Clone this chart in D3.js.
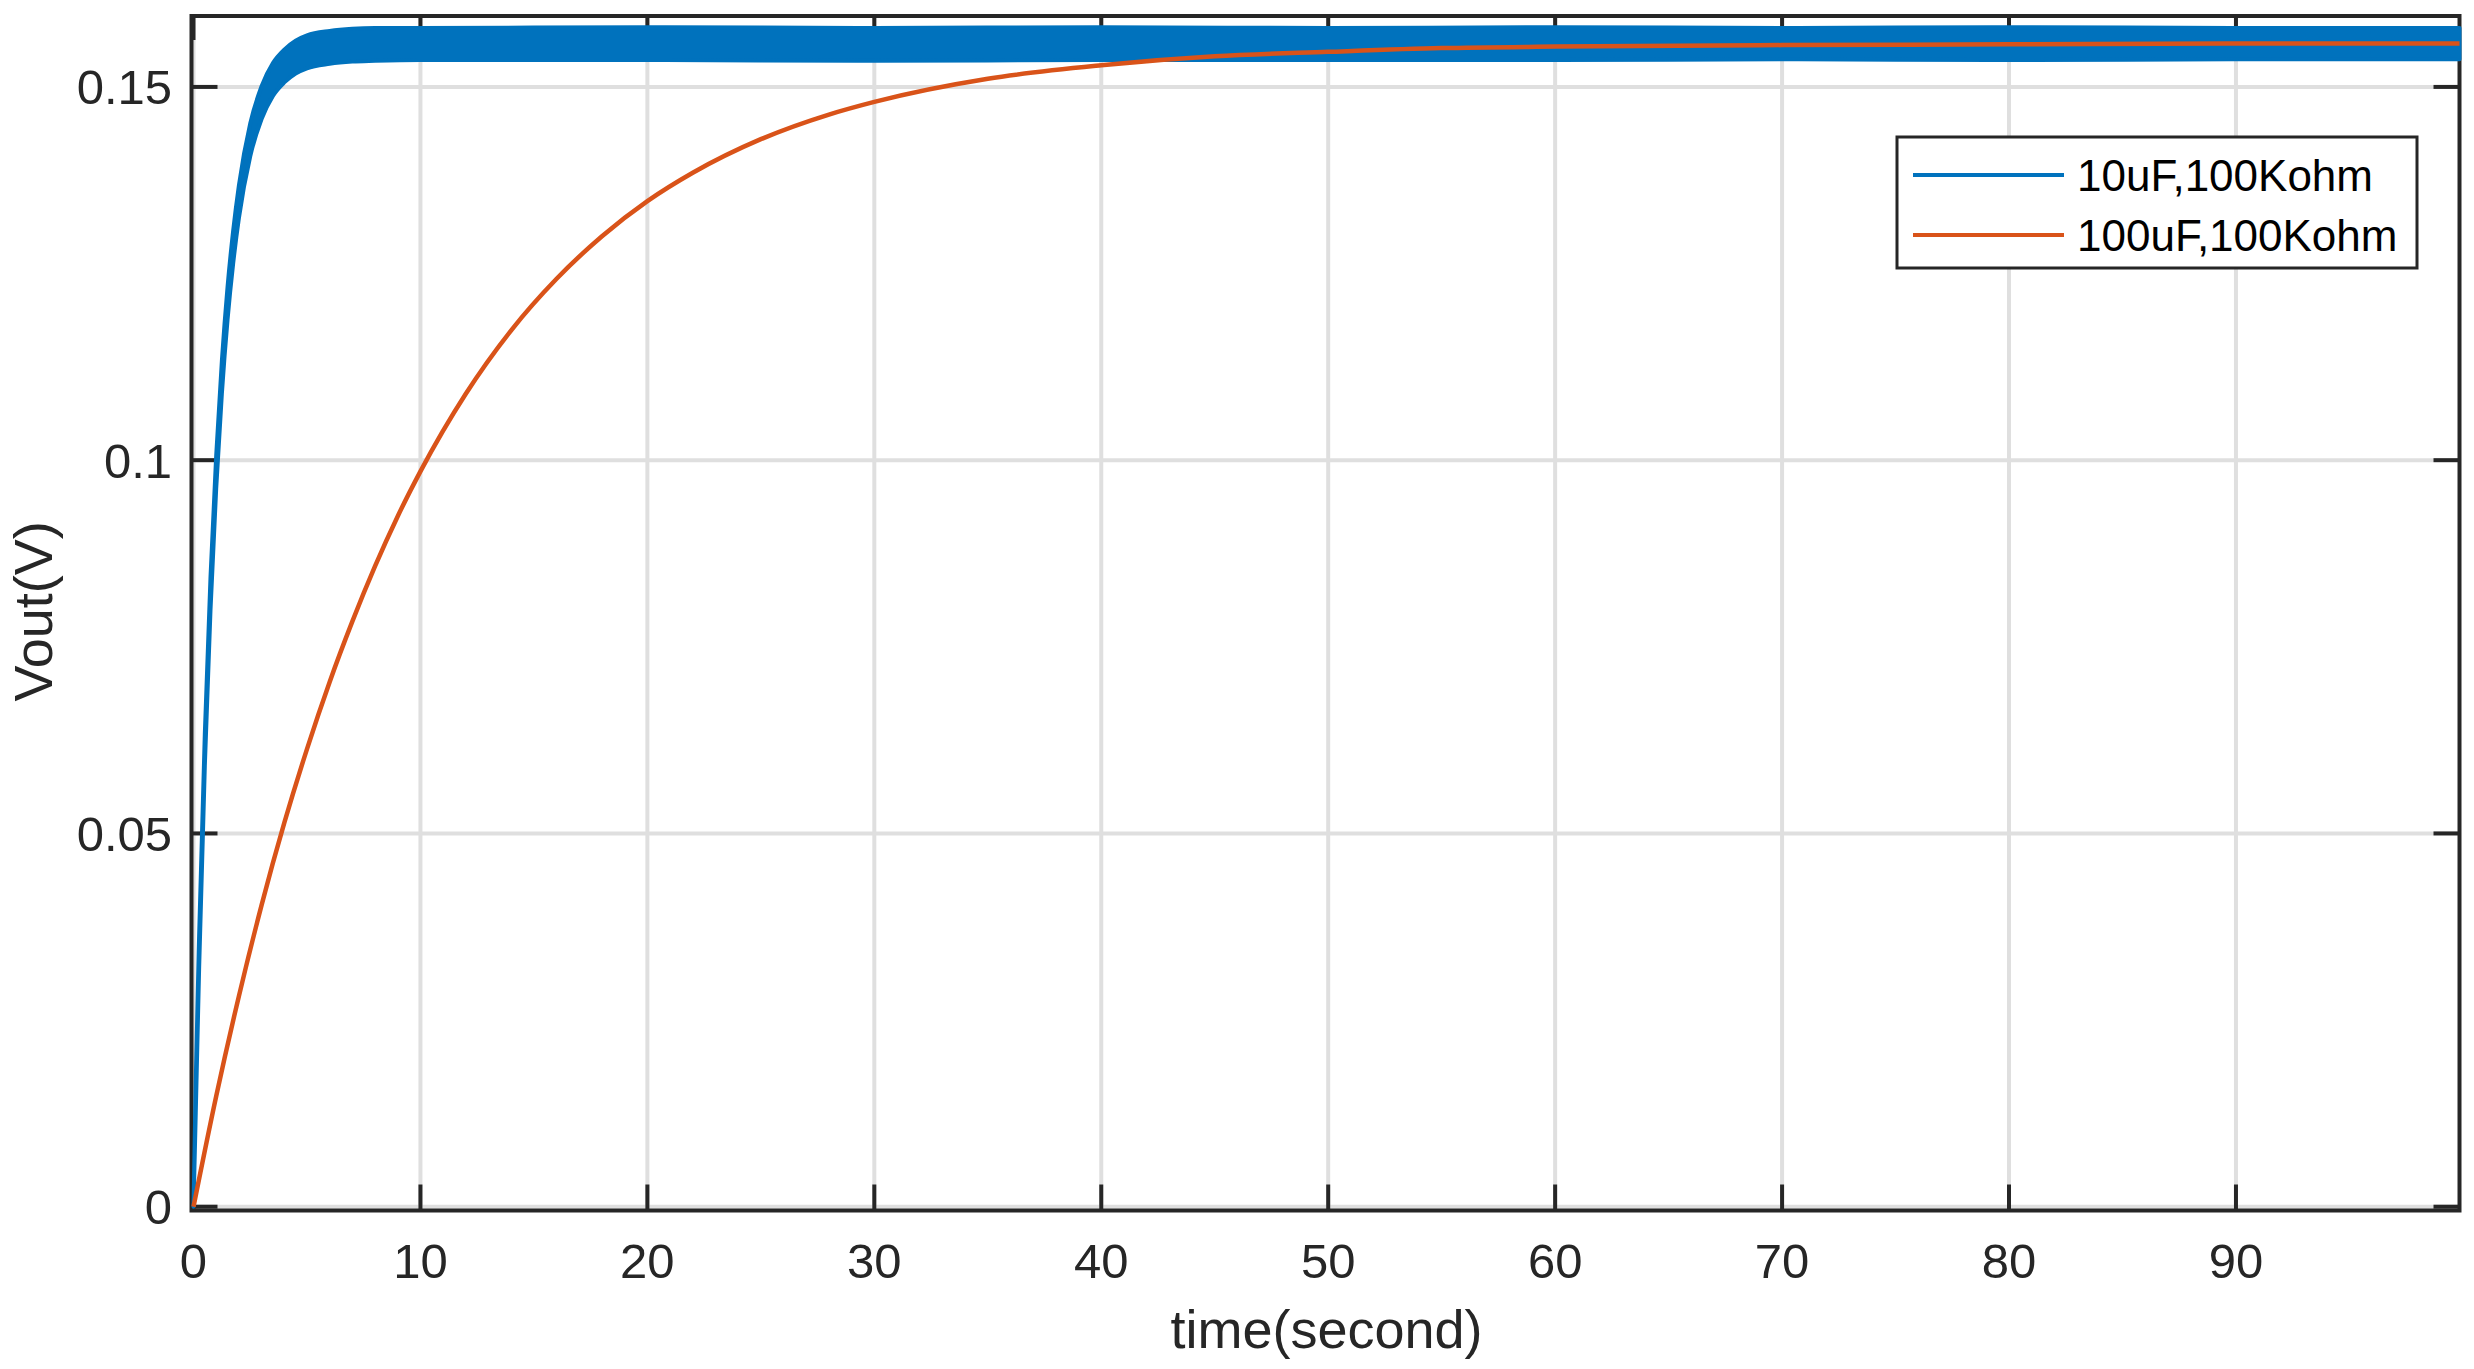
<!DOCTYPE html>
<html>
<head>
<meta charset="utf-8">
<script src="https://cdn.jsdelivr.net/npm/d3@7"></script>
<style>
  html, body { margin: 0; padding: 0; background: #fff; }
  svg { display: block; }
</style>
</head>
<body>
<svg id="chart" width="2474" height="1369"></svg>
<script>
// ---- data ----
const xTicks = [0, 10, 20, 30, 40, 50, 60, 70, 80, 90];
const yTicks = [0, 0.05, 0.1, 0.15];
const yTickLabels = ["0", "0.05", "0.1", "0.15"];
const seriesNames = ["10uF,100Kohm", "100uF,100Kohm"];

// 10uF,100Kohm : ripple band (upper / lower envelope)
const blueTime  = [0, 0.1, 0.25, 0.5, 0.75, 1, 1.25, 1.5, 1.75, 2, 2.5, 3, 3.5, 4, 4.5, 5, 6, 7, 8, 10, 20, 30, 40, 50, 60, 70, 80, 90, 99.85];
const blueUpper = [0, 0.0170, 0.0366, 0.0635, 0.0844, 0.1006, 0.1133, 0.1232, 0.1308, 0.1368, 0.1451, 0.1501, 0.1532, 0.1550, 0.1562, 0.1569, 0.1575, 0.1578, 0.1579, 0.1579, 0.1580, 0.1579, 0.1580, 0.1579, 0.1580, 0.1579, 0.1580, 0.1579, 0.1579];
const blueLower = [0, 0.0126, 0.0322, 0.0591, 0.0800, 0.0962, 0.1089, 0.1188, 0.1264, 0.1324, 0.1407, 0.1457, 0.1488, 0.1506, 0.1518, 0.1525, 0.1531, 0.1534, 0.1535, 0.1536, 0.1536, 0.1535, 0.1536, 0.1536, 0.1536, 0.1537, 0.1536, 0.1537, 0.1537];

// 100uF,100Kohm
const orangeTime  = [0, 1, 2, 3, 4, 5, 6, 7, 8, 9, 10, 12, 14, 16, 18, 20, 22, 25, 28, 30, 35, 40, 45, 50, 55, 60, 70, 80, 90, 99.85];
const orangeValue = [0, 0.0148, 0.0282, 0.0404, 0.0514, 0.0613, 0.0703, 0.0784, 0.0858, 0.0925, 0.0985, 0.1089, 0.1174, 0.1243, 0.1300, 0.1347, 0.1385, 0.1430, 0.1463, 0.1480, 0.1511, 0.1529, 0.1541, 0.1547, 0.1552, 0.1554, 0.1556, 0.1557, 0.1558, 0.1558];

// ---- layout ----
const xDomain = [0, 99.85];
const yDomain = [0, 0.1595];
const plot = { left: 193.5, right: 2459.5, top: 16, bottom: 1206.7 };
const axisColor = "#262626";
const gridColor = "#dfdfdf";
const blue = "#0072BD";
const orange = "#D95319";
const font = "'Liberation Sans', Arial, Helvetica, sans-serif";

const svg = d3.select("#chart");
const x = d3.scaleLinear().domain(xDomain).range([plot.left, plot.right]);
const y = d3.scaleLinear().domain(yDomain).range([plot.bottom, plot.top]);

// grid
const grid = svg.append("g");
grid.selectAll("line.gx").data(xTicks).enter().append("line")
  .attr("x1", d => x(d)).attr("x2", d => x(d))
  .attr("y1", plot.top).attr("y2", plot.bottom + 2)
  .attr("stroke", gridColor).attr("stroke-width", 4);
grid.selectAll("line.gy").data(yTicks).enter().append("line")
  .attr("x1", plot.left - 2).attr("x2", plot.right)
  .attr("y1", d => y(d)).attr("y2", d => y(d))
  .attr("stroke", gridColor).attr("stroke-width", 4);

// frame
svg.append("rect")
  .attr("x", 191.5).attr("y", 16)
  .attr("width", 2459.5 - 191.5).attr("height", 1210.5 - 16)
  .attr("fill", "none").attr("stroke", axisColor).attr("stroke-width", 4);

// inward ticks on all four sides
const tickLen = 24;
const ticks = svg.append("g").attr("stroke", axisColor).attr("stroke-width", 4);
xTicks.forEach(t => {
  ticks.append("line").attr("x1", x(t)).attr("x2", x(t)).attr("y1", 1210.5).attr("y2", 1210.5 - tickLen - 2);
  ticks.append("line").attr("x1", x(t)).attr("x2", x(t)).attr("y1", 16).attr("y2", 16 + tickLen);
});
yTicks.forEach(t => {
  ticks.append("line").attr("x1", 191.5).attr("x2", 191.5 + tickLen + 2).attr("y1", y(t)).attr("y2", y(t));
  ticks.append("line").attr("x1", 2459.5).attr("x2", 2459.5 - tickLen - 2).attr("y1", y(t)).attr("y2", y(t));
});

// tick labels
svg.append("g").selectAll("text").data(xTicks).enter().append("text")
  .attr("x", d => x(d)).attr("y", 1278)
  .attr("text-anchor", "middle")
  .attr("font-family", font).attr("font-size", 49).attr("fill", axisColor)
  .text(d => String(d));
svg.append("g").selectAll("text").data(yTicks).enter().append("text")
  .attr("x", 172).attr("y", d => y(d) + 17.5)
  .attr("text-anchor", "end")
  .attr("font-family", font).attr("font-size", 49).attr("fill", axisColor)
  .text((d, i) => yTickLabels[i]);

// axis labels
svg.append("text")
  .attr("x", (plot.left + plot.right) / 2).attr("y", 1348)
  .attr("text-anchor", "middle")
  .attr("font-family", font).attr("font-size", 54).attr("fill", axisColor)
  .text("time(second)");
svg.append("text")
  .attr("transform", "translate(52," + ((plot.top + plot.bottom) / 2) + ") rotate(-90)")
  .attr("text-anchor", "middle")
  .attr("font-family", font).attr("font-size", 54).attr("fill", axisColor)
  .text("Vout(V)");

// blue ripple band
const blueData = blueTime.map((t, i) => ({ t, hi: blueUpper[i], lo: blueLower[i] }));
const band = d3.area()
  .x(d => x(d.t)).y0(d => y(d.lo)).y1(d => y(d.hi))
  .curve(d3.curveMonotoneX);
svg.append("path").datum(blueData)
  .attr("d", band)
  .attr("fill", blue).attr("stroke", blue).attr("stroke-width", 4)
  .attr("stroke-linejoin", "round");

// orange line
const orangeData = orangeTime.map((t, i) => ({ t, v: orangeValue[i] }));
const line = d3.line().x(d => x(d.t)).y(d => y(d.v)).curve(d3.curveMonotoneX);
svg.append("path").datum(orangeData)
  .attr("d", line)
  .attr("fill", "none").attr("stroke", orange).attr("stroke-width", 4.5)
  .attr("stroke-linejoin", "round");

// legend
const lg = svg.append("g");
lg.append("rect")
  .attr("x", 1897).attr("y", 137).attr("width", 520).attr("height", 131)
  .attr("fill", "#fff").attr("stroke", axisColor).attr("stroke-width", 3);
const legendColors = [blue, orange];
const legendY = [175, 235];
seriesNames.forEach((name, i) => {
  lg.append("line")
    .attr("x1", 1913).attr("x2", 2064)
    .attr("y1", legendY[i]).attr("y2", legendY[i])
    .attr("stroke", legendColors[i]).attr("stroke-width", 4);
  lg.append("text")
    .attr("x", 2077).attr("y", legendY[i] + 16)
    .attr("font-family", font).attr("font-size", 44).attr("fill", "#000")
    .text(name);
});
</script>
</body>
</html>
